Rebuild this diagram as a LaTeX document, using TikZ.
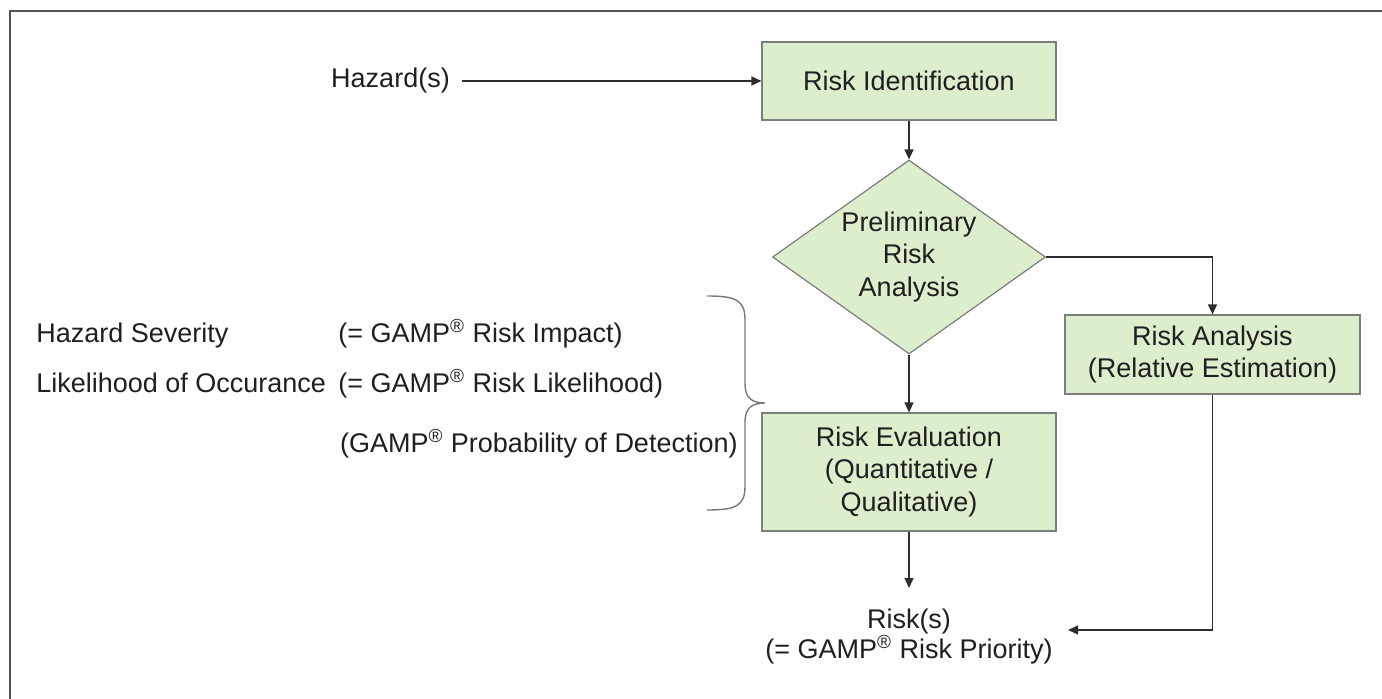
\documentclass[tikz,border=0pt]{standalone}
\usepackage{fontspec}
\setmainfont{Liberation Sans}
\usetikzlibrary{arrows.meta,shapes.geometric}
\definecolor{boxfill}{RGB}{221,238,205}
\definecolor{boxline}{RGB}{125,125,125}
\definecolor{wire}{RGB}{45,45,45}
\definecolor{framegray}{RGB}{85,85,85}
\definecolor{bracegray}{RGB}{120,120,120}
\newcommand{\gampmark}{GAMP\textsuperscript{®}}

\begin{document}
\begin{tikzpicture}[x=0.5pt,y=-0.5pt,
  every node/.style={font=\fontsize{13.5}{16.25}\selectfont, text=black!88},
  stepbox/.style={draw=boxline, line width=0.6pt, fill=boxfill, inner sep=0pt, align=center},
  decide/.style={diamond, draw=boxline, line width=0.6pt, fill=boxfill, inner sep=0pt,
    aspect=1.41, minimum width=136.5pt, minimum height=97pt, align=center},
  flow/.style={draw=wire, line width=0.7pt, -{Triangle[length=5pt,width=4.5pt]}},
  plain/.style={inner sep=0pt},
  bracket/.style={draw=bracegray, line width=0.7pt},
]
\useasboundingbox (0,0) rectangle (1382,699);

% outer frame (top and left edges)
\draw[framegray, line width=1.2pt] (10,699) -- (10,11) -- (1382,11);

% process steps
\node[stepbox, minimum width=147pt, minimum height=39pt] (ident) at (909,81) {Risk Identification};
\node[decide] (prelim) at (909,257) {Preliminary\\Risk\\Analysis};
\node[stepbox, minimum width=147.5pt, minimum height=39.5pt] (ana) at (1212.5,354.5) {Risk Analysis\\(Relative Estimation)};
\node[stepbox, minimum width=147pt, minimum height=59pt] (eval) at (909,472) {Risk Evaluation\\(Quantitative /\\Qualitative)};

% input and output
\node[inner xsep=6pt, inner ysep=0pt] (haz) at (390.5,81) {Hazard(s)};
\node[align=center, inner xsep=7.5pt, inner ysep=10.5pt,
  font=\fontsize{13.5}{15}\selectfont] (risk) at (909,637) {Risk(s)\\(= \gampmark{} Risk Priority)};

% evaluation factors
\node[plain, anchor=base west] (sev) at (36,343) {Hazard Severity};
\node[plain, anchor=base west] (sevgamp) at (338,343) {(= \gampmark{} Risk Impact)};
\node[plain, anchor=base west] (lik) at (36,393) {Likelihood of Occurance};
\node[plain, anchor=base west] (likgamp) at (338,393) {(= \gampmark{} Risk Likelihood)};
\node[plain, anchor=base east] (det) at (738,453) {(\gampmark{} Probability of Detection)};

% curly bracket grouping the factors
\draw[bracket] (707,296) .. controls (736,296) and (745,300) .. (745,320)
  -- (745,384) .. controls (745,398) and (752,403) .. (765,403)
  .. controls (752,403) and (745,408) .. (745,422)
  -- (745,486) .. controls (745,506) and (736,510) .. (707,510);

% connectors
\draw[flow] (haz.east) -- (haz.east -| ident.west);
\draw[flow] (ident) -- (prelim);
\draw[flow] (prelim.east) -| (ana.north);
\draw[flow] (prelim) -- (eval);
\draw[flow] (eval) -- (risk);
\draw[flow] (ana.south) |- ([yshift=3.5pt]risk.east);
\end{tikzpicture}
\end{document}
